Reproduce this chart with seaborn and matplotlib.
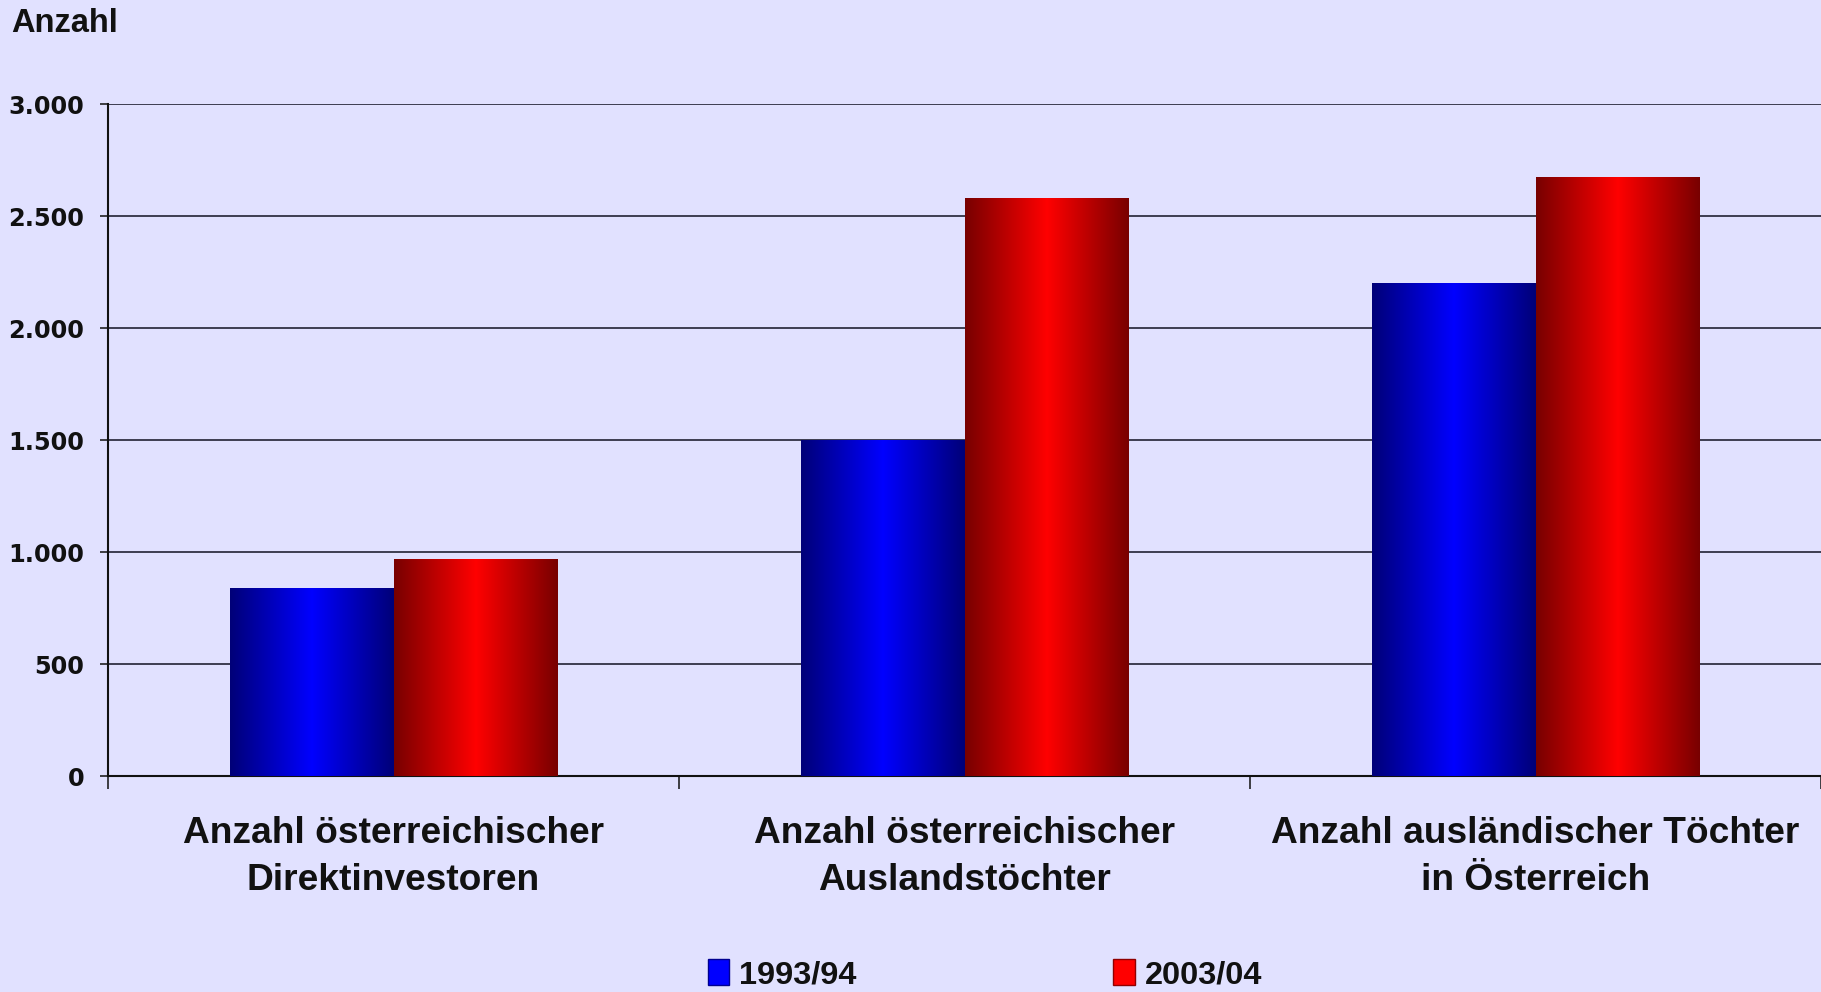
import numpy as np
import pandas as pd
import matplotlib
matplotlib.use("Agg")
import matplotlib.pyplot as plt
from matplotlib.colors import LinearSegmentedColormap
from matplotlib.patches import Patch
import seaborn as sns

categories = ["Anzahl österreichischer\nDirektinvestoren",
              "Anzahl österreichischer\nAuslandstöchter",
              "Anzahl ausländischer Töchter\nin Österreich"]
series_names = ["1993/94", "2003/04"]
values_1993 = [840, 1500, 2200]
values_2003 = [970, 2580, 2675]
y_ticks = [0, 500, 1000, 1500, 2000, 2500, 3000]
y_tick_labels = ["0", "500", "1.000", "1.500", "2.000", "2.500", "3.000"]
y_label = "Anzahl"

BG = "#E1E1FF"
sns.set_theme(style="white")
plt.rcParams["font.family"] = ["Liberation Sans", "DejaVu Sans"]

df = pd.DataFrame({
    "cat": categories * 2,
    "series": [series_names[0]] * 3 + [series_names[1]] * 3,
    "val": values_1993 + values_2003,
})

fig = plt.figure(figsize=(18.21, 9.92), dpi=100, facecolor=BG)
ax = fig.add_axes([108 / 1821, 216 / 992, 1 - 108 / 1821, 672 / 992])
ax.set_facecolor(BG)

palette = {series_names[0]: "#0000FF", series_names[1]: "#FF0000"}
sns.barplot(data=df, x="cat", y="val", hue="series", order=categories,
            hue_order=series_names, palette=palette, width=0.573,
            saturation=1, ax=ax, legend=False, linewidth=0, zorder=3)

# gradient fills clipped to each bar
cmaps = {
    "b": LinearSegmentedColormap.from_list("b", ["#000078", "#0000FF", "#000078"]),
    "r": LinearSegmentedColormap.from_list("r", ["#780000", "#FF0000", "#780000"]),
}
grad = np.linspace(0, 1, 256).reshape(1, -1)
for p in list(ax.patches):
    fc = matplotlib.colors.to_hex(p.get_facecolor()).lower()
    cm = cmaps["b"] if fc == "#0000ff" else cmaps["r"]
    x0, w, h = p.get_x(), p.get_width(), p.get_height()
    im = ax.imshow(grad, cmap=cm, extent=[x0, x0 + w, 0, h], aspect="auto",
                   zorder=3.5, interpolation="bilinear")
    im.set_clip_path(p)
ax.set_xlim(-0.5, 2.5)
ax.set_ylim(0, 3000)

# y axis and grid
ax.set_yticks(y_ticks)
ax.set_yticklabels(y_tick_labels, fontfamily="DejaVu Sans", fontweight="bold",
                   fontsize=17.3, color="#111111")
ax.yaxis.grid(True, color="#222233", linewidth=1.2, zorder=0)
ax.set_axisbelow(True)
ax.tick_params(axis="y", direction="out", length=6, width=1.2, color="#222222",
               pad=11, left=True)

# x axis: category labels at centers, separator ticks at boundaries
ax.set_xticks([0, 1, 2])
ax.set_xticklabels(categories, fontsize=26.7, fontweight="bold",
                   linespacing=1.42, color="#111111")
ax.tick_params(axis="x", length=0, pad=29)
ax.set_xticks([-0.5, 0.5, 1.5, 2.5], minor=True)
ax.tick_params(axis="x", which="minor", direction="out", length=9, width=1.2,
               color="#222222", bottom=True)

for s in ["top", "right"]:
    ax.spines[s].set_visible(False)
for s in ["left", "bottom"]:
    ax.spines[s].set_color("#111111")
    ax.spines[s].set_linewidth(1.5)

ax.set_xlabel("")
ax.set_ylabel("")
fig.text(11 / 1821, 1 - 8 / 992, y_label, fontsize=23.5, fontweight="bold",
         ha="left", va="top", color="#111111")

# legend
handles = [Patch(facecolor="#0000FF", edgecolor="#000090", linewidth=1),
           Patch(facecolor="#FF0000", edgecolor="#900000", linewidth=1)]
leg = fig.legend(handles, series_names, loc="center left",
                 bbox_to_anchor=(708 / 1821, 17 / 992), ncol=2, frameon=False,
                 borderpad=0, borderaxespad=0, handlelength=0.66,
                 handleheight=0.85, handletextpad=0.3, columnspacing=7.9,
                 prop={"family": "Liberation Sans", "weight": "bold", "size": 23.4})
for t in leg.get_texts():
    t.set_color("#111111")

fig.savefig("out.png", dpi=100, facecolor=BG)
